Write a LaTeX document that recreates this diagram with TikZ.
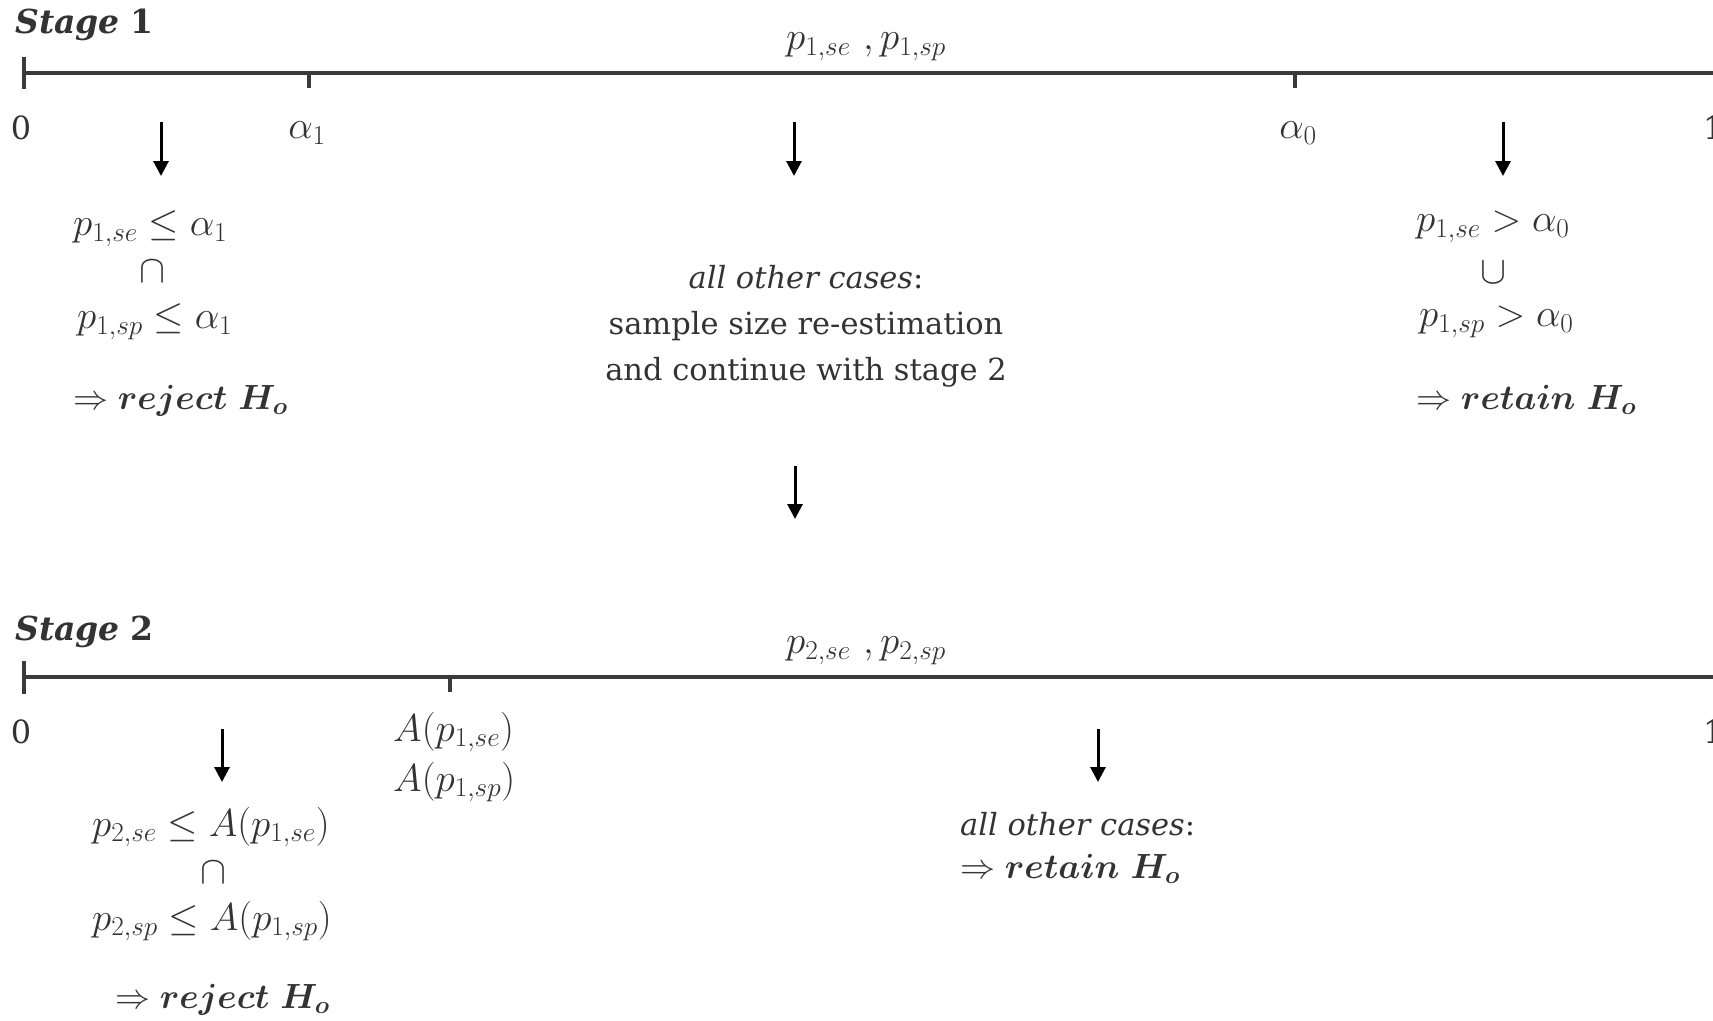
\RequirePackage{fix-cm}
\documentclass[tikz,border=0pt]{standalone}
\usepackage{amsmath,amssymb}
\usepackage[no-math]{fontspec}
\setmainfont{DejaVu Serif}
\usetikzlibrary{arrows.meta}
\definecolor{txt}{HTML}{333333}
\definecolor{axiscol}{HTML}{3A3A3A}
\tikzset{
  lbl/.style={inner sep=0pt, text=txt, font=\fontsize{30.5}{46}\selectfont},
  stagelbl/.style={inner sep=0pt, text=txt, font=\fontsize{33}{40}\selectfont},
  digitlbl/.style={inner sep=0pt, text=txt, font=\fontsize{32}{40}\selectfont},
  mlbl/.style={inner sep=0pt, text=txt, font=\fontsize{39}{46}\selectfont},
  blbl/.style={inner sep=0pt, text=txt, font=\fontsize{35}{46}\selectfont},
  axisline/.style={draw=axiscol, line width=4pt},
  tickmark/.style={draw=axiscol, line width=3.5pt},
  downarrow/.style={draw=black, line width=3pt, -{Triangle[width=15pt,length=15pt]}},
}
\begin{document}
\begin{tikzpicture}[x=1pt,y=-1pt]
\clip (0,0) rectangle (1713,1020);
% ---------------- Stage 1 ----------------
\node[stagelbl, anchor=west] (s1) at (15,25) {\textbf{\textit{Stage}} \textbf{1}};
\coordinate (ax1l) at (24,73);
\coordinate (ax1r) at (1720,73);
\draw[axisline] (ax1l) -- (ax1r);
\coordinate (t1a) at (24,57); \coordinate (t1b) at (24,89);
\draw[tickmark] (t1a) -- (t1b);
\coordinate (ta1a) at (309,73); \coordinate (ta1b) at (309,88);
\draw[tickmark] (ta1a) -- (ta1b);
\coordinate (ta0a) at (1295,73); \coordinate (ta0b) at (1295,88);
\draw[tickmark] (ta0a) -- (ta0b);
\node[mlbl] (p1) at (866,47) {$p_{1,se}\ ,p_{1,sp}$};
\node[digitlbl] (z1) at (21,128) {0};
\node[digitlbl, anchor=west] (o1) at (1703,128) {1};
\node[mlbl] (al1) at (307,133) {$\alpha_1$};
\node[mlbl] (al0) at (1298,133) {$\alpha_0$};
% arrows stage 1
\coordinate (a1t) at (161,122); \coordinate (a1b) at (161,176);
\coordinate (a2t) at (794,122); \coordinate (a2b) at (794,176);
\coordinate (a3t) at (1503,122); \coordinate (a3b) at (1503,176);
\draw[downarrow] (a1t) -- (a1b);
\draw[downarrow] (a2t) -- (a2b);
\draw[downarrow] (a3t) -- (a3b);
% left block
\node[mlbl, anchor=west] (l1) at (73,229) {$p_{1,se} \leq \alpha_1$};
\node[mlbl] (lcap) at (152,272) {$\cap$};
\node[mlbl, anchor=west] (l2) at (77,322) {$p_{1,sp} \leq \alpha_1$};
\node[blbl, anchor=west] (l3) at (73,401) {$\Rightarrow \boldsymbol{reject\ H_o}$};
% middle block
\node[lbl, align=center] (mid) at (806,326) {\textit{all other cases}:\\sample size re-estimation\\and continue with stage 2};
% right block
\node[mlbl, anchor=west] (r1) at (1416,227) {$p_{1,se} > \alpha_0$};
\node[mlbl] (rcup) at (1493,273) {$\cup$};
\node[mlbl, anchor=west] (r2) at (1419,322) {$p_{1,sp} > \alpha_0$};
\node[blbl, anchor=west] (r3) at (1416,400) {$\Rightarrow \boldsymbol{retain\ H_o}$};
% transition arrow
\coordinate (a4t) at (795,466); \coordinate (a4b) at (795,519);
\draw[downarrow] (a4t) -- (a4b);
% ---------------- Stage 2 ----------------
\node[stagelbl, anchor=west] (s2) at (15,632) {\textbf{\textit{Stage}} \textbf{2}};
\coordinate (ax2l) at (24,677);
\coordinate (ax2r) at (1720,677);
\draw[axisline] (ax2l) -- (ax2r);
\coordinate (t2a) at (24,661); \coordinate (t2b) at (24,694);
\draw[tickmark] (t2a) -- (t2b);
\coordinate (tAa) at (450,677); \coordinate (tAb) at (450,692);
\draw[tickmark] (tAa) -- (tAb);
\node[mlbl] (p2) at (866,651) {$p_{2,se}\ ,p_{2,sp}$};
\node[digitlbl] (z2) at (21,732) {0};
\node[digitlbl, anchor=west] (o2) at (1703,732) {1};
\node[mlbl, anchor=west] (A1) at (393,732) {$A(p_{1,se})$};
\node[mlbl, anchor=west] (A2) at (393,782) {$A(p_{1,sp})$};
\coordinate (a5t) at (222,729); \coordinate (a5b) at (222,782);
\coordinate (a6t) at (1098,729); \coordinate (a6b) at (1098,782);
\draw[downarrow] (a5t) -- (a5b);
\draw[downarrow] (a6t) -- (a6b);
\node[mlbl, anchor=west] (m1) at (92,827) {$p_{2,se} \leq A(p_{1,se})$};
\node[mlbl] (mcap) at (213,873) {$\cap$};
\node[mlbl, anchor=west] (m2) at (92,921) {$p_{2,sp} \leq A(p_{1,sp})$};
\node[blbl, anchor=west] (m3) at (115,1000) {$\Rightarrow \boldsymbol{reject\ H_o}$};
\node[lbl, anchor=west] (n1) at (960,824) {\textit{all other cases}:};
\node[blbl, anchor=west] (n2) at (960,869) {$\Rightarrow \boldsymbol{retain\ H_o}$};
\end{tikzpicture}
\end{document}
